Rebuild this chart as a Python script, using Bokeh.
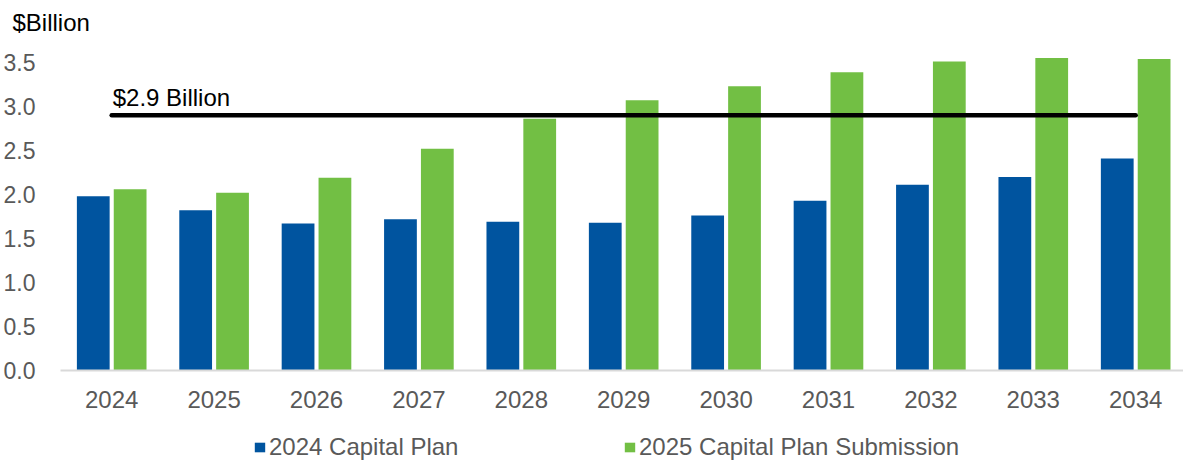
from bokeh.plotting import figure
from bokeh.layouts import column
from bokeh.models import Range1d, FixedTicker, Legend, LegendItem, ColumnDataSource, CustomJSTickFormatter
from bokeh.core.properties import value
from bokeh.transform import dodge
from bokeh.embed import file_html
from bokeh.resources import INLINE

# ---- data ----
years = [2024, 2025, 2026, 2027, 2028, 2029, 2030, 2031, 2032, 2033, 2034]
plan_2024 = [1.98, 1.82, 1.67, 1.72, 1.69, 1.68, 1.76, 1.93, 2.11, 2.20, 2.41]
plan_2025 = [2.06, 2.02, 2.19, 2.52, 2.86, 3.07, 3.23, 3.39, 3.51, 3.55, 3.54]
target = 2.9
target_label = "$2.9 Billion"
y_ticks = [0.0, 0.5, 1.0, 1.5, 2.0, 2.5, 3.0, 3.5]
series_names = ["2024 Capital Plan", "2025 Capital Plan Submission"]
y_title = "$Billion"

BLUE = "#00549F"
GREEN = "#72BF44"
FONT = "Liberation Sans"
GREY = "#595959"

src = ColumnDataSource(dict(x=years, a=plan_2024, b=plan_2025))

# ---- main chart ----
p = figure(width=1183, height=415, output_backend="svg", toolbar_location=None,
           x_range=Range1d(years[0] - 0.5, years[-1] + 0.467),
           y_range=Range1d(0, 3.75),
           min_border_left=60, min_border_right=0, min_border_top=40, min_border_bottom=45)
p.outline_line_color = None
p.xgrid.grid_line_color = None
p.ygrid.grid_line_color = None
p.background_fill_color = "white"
p.border_fill_color = "white"

p.vbar(x=dodge("x", -0.18), top="a", width=0.32, source=src, fill_color=BLUE, line_color=None)
p.vbar(x=dodge("x", 0.18), top="b", width=0.32, source=src, fill_color=GREEN, line_color=None)

# target line
p.line(x=[years[0], years[-1]], y=[target, target], line_color="black", line_width=4.5, line_cap="round")
p.text(x=[years[0]], y=[target], text=[target_label], x_offset=1, y_offset=-18,
       text_font=value(FONT), text_font_size="24px", text_color="black",
       text_baseline="alphabetic", text_align="left")

# axes
xa = p.xaxis[0]
xa.ticker = FixedTicker(ticks=years)
xa.major_tick_line_color = None
xa.minor_tick_line_color = None
xa.axis_line_color = "#D9D9D9"
xa.axis_line_width = 2
xa.major_label_text_font = FONT
xa.major_label_text_font_size = "24px"
xa.major_label_text_color = GREY
xa.major_label_standoff = 14

ya = p.yaxis[0]
ya.ticker = FixedTicker(ticks=y_ticks)
ya.formatter = CustomJSTickFormatter(code="return tick.toFixed(1);")
ya.major_tick_line_color = None
ya.minor_tick_line_color = None
ya.axis_line_color = None
ya.major_label_text_font = FONT
ya.major_label_text_font_size = "23px"
ya.major_label_text_color = GREY
ya.major_label_standoff = 19

p.title.text = y_title
p.title.align = "left"
p.title.offset = -48
p.title.text_font = FONT
p.title.text_font_size = "24px"
p.title.text_font_style = "normal"
p.title.text_color = "black"

# ---- legend strip (its bars lie outside its view; only the legend shows) ----
lg = figure(width=1183, height=47, output_backend="svg", toolbar_location=None,
            x_axis_type=None, y_axis_type=None,
            x_range=Range1d(years[0] - 0.5, years[-1] + 0.467), y_range=Range1d(100, 101),
            min_border_left=60, min_border_right=0, min_border_top=0, min_border_bottom=0)
lg.outline_line_color = None
lg.xgrid.grid_line_color = None
lg.ygrid.grid_line_color = None
lg.border_fill_color = "white"
k1 = lg.vbar(x=dodge("x", -0.18), top="a", width=0.32, source=src, fill_color=BLUE, line_color=None)
k2 = lg.vbar(x=dodge("x", 0.18), top="b", width=0.32, source=src, fill_color=GREEN, line_color=None)

legend = Legend(items=[LegendItem(label=series_names[0], renderers=[k1]),
                       LegendItem(label=series_names[1], renderers=[k2])],
                orientation="horizontal", location=(193, 1),
                glyph_width=13, glyph_height=12, label_standoff=3, spacing=4,
                label_width=350, label_height=24,
                padding=0, margin=0, border_line_color=None, background_fill_alpha=0,
                label_text_font=FONT, label_text_font_size="24px", label_text_color=GREY)
lg.add_layout(legend, "center")

layout = column(p, lg, spacing=0)
open("out.html", "w").write(file_html(layout, INLINE))
